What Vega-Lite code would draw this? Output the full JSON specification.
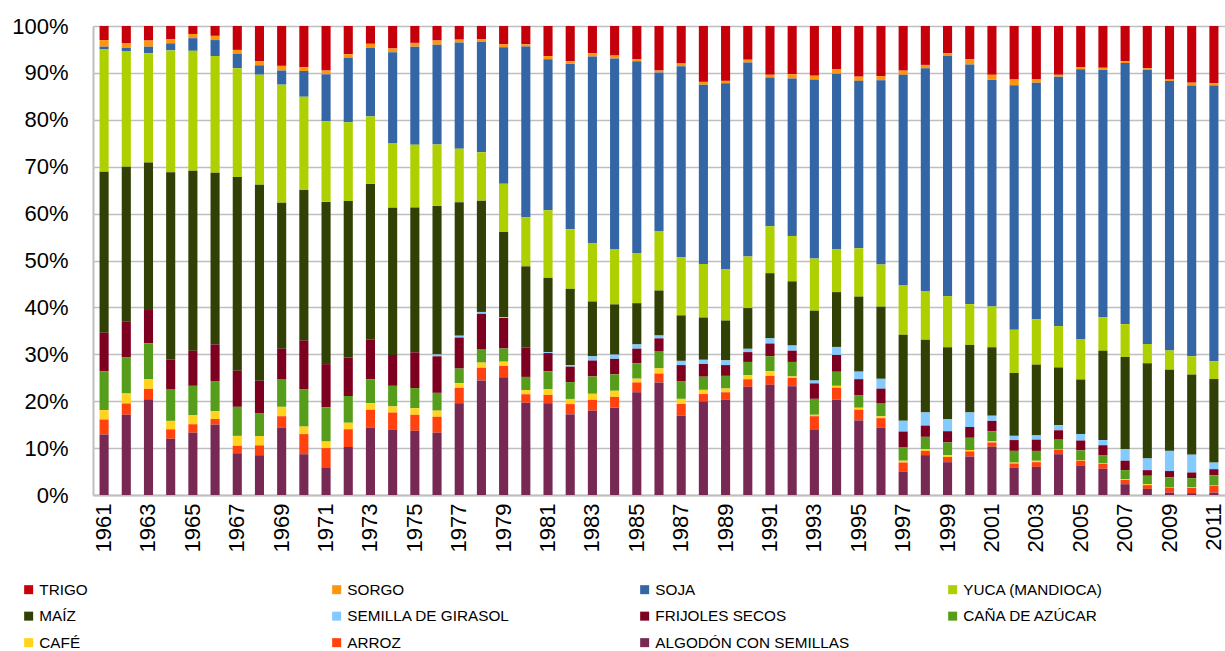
{
"$schema": "https://vega.github.io/schema/vega-lite/v6.json",
"width": 1132, "height": 469,
"autosize": "none",
"padding": {"left": 93, "top": 26, "right": 0, "bottom": 156},
"background": "white",
"config": {"view": {"stroke": null}, "font": "Liberation Sans"},
"datasets": {
"orden": [{"crop":"ALGODÓN CON SEMILLAS","rank":1},{"crop":"ARROZ","rank":2},{"crop":"CAFÉ","rank":3},{"crop":"CAÑA DE AZÚCAR","rank":4},{"crop":"FRIJOLES SECOS","rank":5},{"crop":"SEMILLA DE GIRASOL","rank":6},{"crop":"MAÍZ","rank":7},{"crop":"YUCA (MANDIOCA)","rank":8},{"crop":"SOJA","rank":9},{"crop":"SORGO","rank":10},{"crop":"TRIGO","rank":11}],
"d": [
{"year":1961,"crop":"TRIGO","pct":3.0},{"year":1961,"crop":"SORGO","pct":1.4},{"year":1961,"crop":"SOJA","pct":0.5},{"year":1961,"crop":"YUCA (MANDIOCA)","pct":26.2},{"year":1961,"crop":"MAÍZ","pct":34.3},{"year":1961,"crop":"SEMILLA DE GIRASOL","pct":0},{"year":1961,"crop":"FRIJOLES SECOS","pct":8.2},{"year":1961,"crop":"CAÑA DE AZÚCAR","pct":8.3},{"year":1961,"crop":"CAFÉ","pct":2.0},{"year":1961,"crop":"ARROZ","pct":3.2},{"year":1961,"crop":"ALGODÓN CON SEMILLAS","pct":12.9},
{"year":1962,"crop":"TRIGO","pct":3.6},{"year":1962,"crop":"SORGO","pct":1.1},{"year":1962,"crop":"SOJA","pct":0.6},{"year":1962,"crop":"YUCA (MANDIOCA)","pct":24.7},{"year":1962,"crop":"MAÍZ","pct":32.9},{"year":1962,"crop":"SEMILLA DE GIRASOL","pct":0},{"year":1962,"crop":"FRIJOLES SECOS","pct":7.7},{"year":1962,"crop":"CAÑA DE AZÚCAR","pct":7.7},{"year":1962,"crop":"CAFÉ","pct":2.1},{"year":1962,"crop":"ARROZ","pct":2.4},{"year":1962,"crop":"ALGODÓN CON SEMILLAS","pct":17.1},
{"year":1963,"crop":"TRIGO","pct":3.1},{"year":1963,"crop":"SORGO","pct":1.3},{"year":1963,"crop":"SOJA","pct":1.4},{"year":1963,"crop":"YUCA (MANDIOCA)","pct":23.3},{"year":1963,"crop":"MAÍZ","pct":31.4},{"year":1963,"crop":"SEMILLA DE GIRASOL","pct":0},{"year":1963,"crop":"FRIJOLES SECOS","pct":7.1},{"year":1963,"crop":"CAÑA DE AZÚCAR","pct":7.6},{"year":1963,"crop":"CAFÉ","pct":2.1},{"year":1963,"crop":"ARROZ","pct":2.2},{"year":1963,"crop":"ALGODÓN CON SEMILLAS","pct":20.4},
{"year":1964,"crop":"TRIGO","pct":2.8},{"year":1964,"crop":"SORGO","pct":0.9},{"year":1964,"crop":"SOJA","pct":1.5},{"year":1964,"crop":"YUCA (MANDIOCA)","pct":26.0},{"year":1964,"crop":"MAÍZ","pct":39.9},{"year":1964,"crop":"SEMILLA DE GIRASOL","pct":0},{"year":1964,"crop":"FRIJOLES SECOS","pct":6.3},{"year":1964,"crop":"CAÑA DE AZÚCAR","pct":6.8},{"year":1964,"crop":"CAFÉ","pct":1.8},{"year":1964,"crop":"ARROZ","pct":2.0},{"year":1964,"crop":"ALGODÓN CON SEMILLAS","pct":12.0},
{"year":1965,"crop":"TRIGO","pct":1.7},{"year":1965,"crop":"SORGO","pct":0.9},{"year":1965,"crop":"SOJA","pct":2.7},{"year":1965,"crop":"YUCA (MANDIOCA)","pct":25.6},{"year":1965,"crop":"MAÍZ","pct":38.4},{"year":1965,"crop":"SEMILLA DE GIRASOL","pct":0},{"year":1965,"crop":"FRIJOLES SECOS","pct":7.5},{"year":1965,"crop":"CAÑA DE AZÚCAR","pct":6.3},{"year":1965,"crop":"CAFÉ","pct":1.9},{"year":1965,"crop":"ARROZ","pct":1.8},{"year":1965,"crop":"ALGODÓN CON SEMILLAS","pct":13.3},
{"year":1966,"crop":"TRIGO","pct":2.1},{"year":1966,"crop":"SORGO","pct":0.9},{"year":1966,"crop":"SOJA","pct":3.4},{"year":1966,"crop":"YUCA (MANDIOCA)","pct":24.9},{"year":1966,"crop":"MAÍZ","pct":36.6},{"year":1966,"crop":"SEMILLA DE GIRASOL","pct":0},{"year":1966,"crop":"FRIJOLES SECOS","pct":7.8},{"year":1966,"crop":"CAÑA DE AZÚCAR","pct":6.4},{"year":1966,"crop":"CAFÉ","pct":1.7},{"year":1966,"crop":"ARROZ","pct":1.2},{"year":1966,"crop":"ALGODÓN CON SEMILLAS","pct":15.0},
{"year":1967,"crop":"TRIGO","pct":5.1},{"year":1967,"crop":"SORGO","pct":0.8},{"year":1967,"crop":"SOJA","pct":3.1},{"year":1967,"crop":"YUCA (MANDIOCA)","pct":23.2},{"year":1967,"crop":"MAÍZ","pct":41.3},{"year":1967,"crop":"SEMILLA DE GIRASOL","pct":0},{"year":1967,"crop":"FRIJOLES SECOS","pct":7.7},{"year":1967,"crop":"CAÑA DE AZÚCAR","pct":6.2},{"year":1967,"crop":"CAFÉ","pct":2.1},{"year":1967,"crop":"ARROZ","pct":1.6},{"year":1967,"crop":"ALGODÓN CON SEMILLAS","pct":8.9},
{"year":1968,"crop":"TRIGO","pct":7.5},{"year":1968,"crop":"SORGO","pct":0.9},{"year":1968,"crop":"SOJA","pct":2.0},{"year":1968,"crop":"YUCA (MANDIOCA)","pct":23.5},{"year":1968,"crop":"MAÍZ","pct":41.9},{"year":1968,"crop":"SEMILLA DE GIRASOL","pct":0},{"year":1968,"crop":"FRIJOLES SECOS","pct":7.0},{"year":1968,"crop":"CAÑA DE AZÚCAR","pct":4.8},{"year":1968,"crop":"CAFÉ","pct":2.0},{"year":1968,"crop":"ARROZ","pct":2.1},{"year":1968,"crop":"ALGODÓN CON SEMILLAS","pct":8.5},
{"year":1969,"crop":"TRIGO","pct":8.5},{"year":1969,"crop":"SORGO","pct":1.0},{"year":1969,"crop":"SOJA","pct":3.0},{"year":1969,"crop":"YUCA (MANDIOCA)","pct":25.2},{"year":1969,"crop":"MAÍZ","pct":31.1},{"year":1969,"crop":"SEMILLA DE GIRASOL","pct":0},{"year":1969,"crop":"FRIJOLES SECOS","pct":6.6},{"year":1969,"crop":"CAÑA DE AZÚCAR","pct":5.8},{"year":1969,"crop":"CAFÉ","pct":2.0},{"year":1969,"crop":"ARROZ","pct":2.4},{"year":1969,"crop":"ALGODÓN CON SEMILLAS","pct":14.4},
{"year":1970,"crop":"TRIGO","pct":8.8},{"year":1970,"crop":"SORGO","pct":0.8},{"year":1970,"crop":"SOJA","pct":5.5},{"year":1970,"crop":"YUCA (MANDIOCA)","pct":19.9},{"year":1970,"crop":"MAÍZ","pct":32.1},{"year":1970,"crop":"SEMILLA DE GIRASOL","pct":0},{"year":1970,"crop":"FRIJOLES SECOS","pct":10.4},{"year":1970,"crop":"CAÑA DE AZÚCAR","pct":8.0},{"year":1970,"crop":"CAFÉ","pct":1.6},{"year":1970,"crop":"ARROZ","pct":4.3},{"year":1970,"crop":"ALGODÓN CON SEMILLAS","pct":8.7},
{"year":1971,"crop":"TRIGO","pct":9.5},{"year":1971,"crop":"SORGO","pct":0.8},{"year":1971,"crop":"SOJA","pct":10.0},{"year":1971,"crop":"YUCA (MANDIOCA)","pct":17.2},{"year":1971,"crop":"MAÍZ","pct":34.6},{"year":1971,"crop":"SEMILLA DE GIRASOL","pct":0},{"year":1971,"crop":"FRIJOLES SECOS","pct":9.2},{"year":1971,"crop":"CAÑA DE AZÚCAR","pct":7.3},{"year":1971,"crop":"CAFÉ","pct":1.4},{"year":1971,"crop":"ARROZ","pct":4.1},{"year":1971,"crop":"ALGODÓN CON SEMILLAS","pct":5.9},
{"year":1972,"crop":"TRIGO","pct":6.0},{"year":1972,"crop":"SORGO","pct":0.8},{"year":1972,"crop":"SOJA","pct":13.7},{"year":1972,"crop":"YUCA (MANDIOCA)","pct":16.8},{"year":1972,"crop":"MAÍZ","pct":33.3},{"year":1972,"crop":"SEMILLA DE GIRASOL","pct":0},{"year":1972,"crop":"FRIJOLES SECOS","pct":8.2},{"year":1972,"crop":"CAÑA DE AZÚCAR","pct":5.7},{"year":1972,"crop":"CAFÉ","pct":1.4},{"year":1972,"crop":"ARROZ","pct":3.8},{"year":1972,"crop":"ALGODÓN CON SEMILLAS","pct":10.2},
{"year":1973,"crop":"TRIGO","pct":3.8},{"year":1973,"crop":"SORGO","pct":0.9},{"year":1973,"crop":"SOJA","pct":14.6},{"year":1973,"crop":"YUCA (MANDIOCA)","pct":14.4},{"year":1973,"crop":"MAÍZ","pct":33.2},{"year":1973,"crop":"SEMILLA DE GIRASOL","pct":0},{"year":1973,"crop":"FRIJOLES SECOS","pct":8.5},{"year":1973,"crop":"CAÑA DE AZÚCAR","pct":5.1},{"year":1973,"crop":"CAFÉ","pct":1.4},{"year":1973,"crop":"ARROZ","pct":3.8},{"year":1973,"crop":"ALGODÓN CON SEMILLAS","pct":14.4},
{"year":1974,"crop":"TRIGO","pct":4.8},{"year":1974,"crop":"SORGO","pct":0.8},{"year":1974,"crop":"SOJA","pct":19.5},{"year":1974,"crop":"YUCA (MANDIOCA)","pct":13.7},{"year":1974,"crop":"MAÍZ","pct":31.4},{"year":1974,"crop":"SEMILLA DE GIRASOL","pct":0},{"year":1974,"crop":"FRIJOLES SECOS","pct":6.6},{"year":1974,"crop":"CAÑA DE AZÚCAR","pct":4.4},{"year":1974,"crop":"CAFÉ","pct":1.3},{"year":1974,"crop":"ARROZ","pct":3.6},{"year":1974,"crop":"ALGODÓN CON SEMILLAS","pct":14.0},
{"year":1975,"crop":"TRIGO","pct":3.6},{"year":1975,"crop":"SORGO","pct":0.8},{"year":1975,"crop":"SOJA","pct":20.9},{"year":1975,"crop":"YUCA (MANDIOCA)","pct":13.4},{"year":1975,"crop":"MAÍZ","pct":30.9},{"year":1975,"crop":"SEMILLA DE GIRASOL","pct":0},{"year":1975,"crop":"FRIJOLES SECOS","pct":7.6},{"year":1975,"crop":"CAÑA DE AZÚCAR","pct":4.3},{"year":1975,"crop":"CAFÉ","pct":1.4},{"year":1975,"crop":"ARROZ","pct":3.4},{"year":1975,"crop":"ALGODÓN CON SEMILLAS","pct":13.7},
{"year":1976,"crop":"TRIGO","pct":3.1},{"year":1976,"crop":"SORGO","pct":0.9},{"year":1976,"crop":"SOJA","pct":21.3},{"year":1976,"crop":"YUCA (MANDIOCA)","pct":13.1},{"year":1976,"crop":"MAÍZ","pct":31.7},{"year":1976,"crop":"SEMILLA DE GIRASOL","pct":0.4},{"year":1976,"crop":"FRIJOLES SECOS","pct":7.8},{"year":1976,"crop":"CAÑA DE AZÚCAR","pct":3.8},{"year":1976,"crop":"CAFÉ","pct":1.3},{"year":1976,"crop":"ARROZ","pct":3.4},{"year":1976,"crop":"ALGODÓN CON SEMILLAS","pct":13.3},
{"year":1977,"crop":"TRIGO","pct":2.9},{"year":1977,"crop":"SORGO","pct":0.6},{"year":1977,"crop":"SOJA","pct":22.6},{"year":1977,"crop":"YUCA (MANDIOCA)","pct":11.4},{"year":1977,"crop":"MAÍZ","pct":28.4},{"year":1977,"crop":"SEMILLA DE GIRASOL","pct":0.4},{"year":1977,"crop":"FRIJOLES SECOS","pct":6.6},{"year":1977,"crop":"CAÑA DE AZÚCAR","pct":3.1},{"year":1977,"crop":"CAFÉ","pct":1.0},{"year":1977,"crop":"ARROZ","pct":3.3},{"year":1977,"crop":"ALGODÓN CON SEMILLAS","pct":19.5},
{"year":1978,"crop":"TRIGO","pct":2.8},{"year":1978,"crop":"SORGO","pct":0.6},{"year":1978,"crop":"SOJA","pct":23.5},{"year":1978,"crop":"YUCA (MANDIOCA)","pct":10.3},{"year":1978,"crop":"MAÍZ","pct":23.7},{"year":1978,"crop":"SEMILLA DE GIRASOL","pct":0.4},{"year":1978,"crop":"FRIJOLES SECOS","pct":7.5},{"year":1978,"crop":"CAÑA DE AZÚCAR","pct":2.9},{"year":1978,"crop":"CAFÉ","pct":1.1},{"year":1978,"crop":"ARROZ","pct":2.7},{"year":1978,"crop":"ALGODÓN CON SEMILLAS","pct":24.4},
{"year":1979,"crop":"TRIGO","pct":3.9},{"year":1979,"crop":"SORGO","pct":0.6},{"year":1979,"crop":"SOJA","pct":29.1},{"year":1979,"crop":"YUCA (MANDIOCA)","pct":10.3},{"year":1979,"crop":"MAÍZ","pct":18.1},{"year":1979,"crop":"SEMILLA DE GIRASOL","pct":0.2},{"year":1979,"crop":"FRIJOLES SECOS","pct":6.5},{"year":1979,"crop":"CAÑA DE AZÚCAR","pct":2.8},{"year":1979,"crop":"CAFÉ","pct":0.9},{"year":1979,"crop":"ARROZ","pct":2.4},{"year":1979,"crop":"ALGODÓN CON SEMILLAS","pct":25.1},
{"year":1980,"crop":"TRIGO","pct":3.9},{"year":1980,"crop":"SORGO","pct":0.5},{"year":1980,"crop":"SOJA","pct":36.4},{"year":1980,"crop":"YUCA (MANDIOCA)","pct":10.5},{"year":1980,"crop":"MAÍZ","pct":17.3},{"year":1980,"crop":"SEMILLA DE GIRASOL","pct":0},{"year":1980,"crop":"FRIJOLES SECOS","pct":6.3},{"year":1980,"crop":"CAÑA DE AZÚCAR","pct":2.8},{"year":1980,"crop":"CAFÉ","pct":0.9},{"year":1980,"crop":"ARROZ","pct":1.8},{"year":1980,"crop":"ALGODÓN CON SEMILLAS","pct":19.7},
{"year":1981,"crop":"TRIGO","pct":6.4},{"year":1981,"crop":"SORGO","pct":0.7},{"year":1981,"crop":"SOJA","pct":32.1},{"year":1981,"crop":"YUCA (MANDIOCA)","pct":14.4},{"year":1981,"crop":"MAÍZ","pct":15.8},{"year":1981,"crop":"SEMILLA DE GIRASOL","pct":0.2},{"year":1981,"crop":"FRIJOLES SECOS","pct":3.9},{"year":1981,"crop":"CAÑA DE AZÚCAR","pct":3.8},{"year":1981,"crop":"CAFÉ","pct":1.2},{"year":1981,"crop":"ARROZ","pct":1.8},{"year":1981,"crop":"ALGODÓN CON SEMILLAS","pct":19.5},
{"year":1982,"crop":"TRIGO","pct":7.5},{"year":1982,"crop":"SORGO","pct":0.6},{"year":1982,"crop":"SOJA","pct":35.3},{"year":1982,"crop":"YUCA (MANDIOCA)","pct":12.7},{"year":1982,"crop":"MAÍZ","pct":16.3},{"year":1982,"crop":"SEMILLA DE GIRASOL","pct":0.3},{"year":1982,"crop":"FRIJOLES SECOS","pct":3.3},{"year":1982,"crop":"CAÑA DE AZÚCAR","pct":3.6},{"year":1982,"crop":"CAFÉ","pct":1.1},{"year":1982,"crop":"ARROZ","pct":2.2},{"year":1982,"crop":"ALGODÓN CON SEMILLAS","pct":17.2},
{"year":1983,"crop":"TRIGO","pct":5.8},{"year":1983,"crop":"SORGO","pct":0.7},{"year":1983,"crop":"SOJA","pct":39.8},{"year":1983,"crop":"YUCA (MANDIOCA)","pct":12.5},{"year":1983,"crop":"MAÍZ","pct":11.7},{"year":1983,"crop":"SEMILLA DE GIRASOL","pct":0.9},{"year":1983,"crop":"FRIJOLES SECOS","pct":3.4},{"year":1983,"crop":"CAÑA DE AZÚCAR","pct":3.7},{"year":1983,"crop":"CAFÉ","pct":1.3},{"year":1983,"crop":"ARROZ","pct":2.3},{"year":1983,"crop":"ALGODÓN CON SEMILLAS","pct":18.0},
{"year":1984,"crop":"TRIGO","pct":6.3},{"year":1984,"crop":"SORGO","pct":0.6},{"year":1984,"crop":"SOJA","pct":40.7},{"year":1984,"crop":"YUCA (MANDIOCA)","pct":11.7},{"year":1984,"crop":"MAÍZ","pct":10.7},{"year":1984,"crop":"SEMILLA DE GIRASOL","pct":0.9},{"year":1984,"crop":"FRIJOLES SECOS","pct":3.3},{"year":1984,"crop":"CAÑA DE AZÚCAR","pct":3.5},{"year":1984,"crop":"CAFÉ","pct":1.3},{"year":1984,"crop":"ARROZ","pct":2.3},{"year":1984,"crop":"ALGODÓN CON SEMILLAS","pct":18.6},
{"year":1985,"crop":"TRIGO","pct":7.1},{"year":1985,"crop":"SORGO","pct":0.4},{"year":1985,"crop":"SOJA","pct":40.9},{"year":1985,"crop":"YUCA (MANDIOCA)","pct":10.7},{"year":1985,"crop":"MAÍZ","pct":8.8},{"year":1985,"crop":"SEMILLA DE GIRASOL","pct":0.9},{"year":1985,"crop":"FRIJOLES SECOS","pct":3.1},{"year":1985,"crop":"CAÑA DE AZÚCAR","pct":3.3},{"year":1985,"crop":"CAFÉ","pct":0.8},{"year":1985,"crop":"ARROZ","pct":2.1},{"year":1985,"crop":"ALGODÓN CON SEMILLAS","pct":21.9},
{"year":1986,"crop":"TRIGO","pct":9.5},{"year":1986,"crop":"SORGO","pct":0.4},{"year":1986,"crop":"SOJA","pct":33.8},{"year":1986,"crop":"YUCA (MANDIOCA)","pct":12.7},{"year":1986,"crop":"MAÍZ","pct":9.6},{"year":1986,"crop":"SEMILLA DE GIRASOL","pct":0.6},{"year":1986,"crop":"FRIJOLES SECOS","pct":2.7},{"year":1986,"crop":"CAÑA DE AZÚCAR","pct":3.7},{"year":1986,"crop":"CAFÉ","pct":1.1},{"year":1986,"crop":"ARROZ","pct":1.9},{"year":1986,"crop":"ALGODÓN CON SEMILLAS","pct":24.0},
{"year":1987,"crop":"TRIGO","pct":8.0},{"year":1987,"crop":"SORGO","pct":0.6},{"year":1987,"crop":"SOJA","pct":40.7},{"year":1987,"crop":"YUCA (MANDIOCA)","pct":12.4},{"year":1987,"crop":"MAÍZ","pct":9.7},{"year":1987,"crop":"SEMILLA DE GIRASOL","pct":0.9},{"year":1987,"crop":"FRIJOLES SECOS","pct":3.4},{"year":1987,"crop":"CAÑA DE AZÚCAR","pct":3.8},{"year":1987,"crop":"CAFÉ","pct":1.1},{"year":1987,"crop":"ARROZ","pct":2.5},{"year":1987,"crop":"ALGODÓN CON SEMILLAS","pct":16.9},
{"year":1988,"crop":"TRIGO","pct":11.9},{"year":1988,"crop":"SORGO","pct":0.6},{"year":1988,"crop":"SOJA","pct":38.2},{"year":1988,"crop":"YUCA (MANDIOCA)","pct":11.4},{"year":1988,"crop":"MAÍZ","pct":9.0},{"year":1988,"crop":"SEMILLA DE GIRASOL","pct":0.9},{"year":1988,"crop":"FRIJOLES SECOS","pct":2.7},{"year":1988,"crop":"CAÑA DE AZÚCAR","pct":2.8},{"year":1988,"crop":"CAFÉ","pct":0.9},{"year":1988,"crop":"ARROZ","pct":1.6},{"year":1988,"crop":"ALGODÓN CON SEMILLAS","pct":19.9},
{"year":1989,"crop":"TRIGO","pct":11.7},{"year":1989,"crop":"SORGO","pct":0.5},{"year":1989,"crop":"SOJA","pct":39.7},{"year":1989,"crop":"YUCA (MANDIOCA)","pct":10.9},{"year":1989,"crop":"MAÍZ","pct":8.5},{"year":1989,"crop":"SEMILLA DE GIRASOL","pct":1.0},{"year":1989,"crop":"FRIJOLES SECOS","pct":2.3},{"year":1989,"crop":"CAÑA DE AZÚCAR","pct":2.7},{"year":1989,"crop":"CAFÉ","pct":0.8},{"year":1989,"crop":"ARROZ","pct":1.6},{"year":1989,"crop":"ALGODÓN CON SEMILLAS","pct":20.3},
{"year":1990,"crop":"TRIGO","pct":7.2},{"year":1990,"crop":"SORGO","pct":0.6},{"year":1990,"crop":"SOJA","pct":41.4},{"year":1990,"crop":"YUCA (MANDIOCA)","pct":11.0},{"year":1990,"crop":"MAÍZ","pct":8.7},{"year":1990,"crop":"SEMILLA DE GIRASOL","pct":0.7},{"year":1990,"crop":"FRIJOLES SECOS","pct":2.1},{"year":1990,"crop":"CAÑA DE AZÚCAR","pct":2.8},{"year":1990,"crop":"CAFÉ","pct":0.9},{"year":1990,"crop":"ARROZ","pct":1.6},{"year":1990,"crop":"ALGODÓN CON SEMILLAS","pct":23.1},
{"year":1991,"crop":"TRIGO","pct":10.4},{"year":1991,"crop":"SORGO","pct":0.6},{"year":1991,"crop":"SOJA","pct":31.7},{"year":1991,"crop":"YUCA (MANDIOCA)","pct":10.0},{"year":1991,"crop":"MAÍZ","pct":13.9},{"year":1991,"crop":"SEMILLA DE GIRASOL","pct":1.1},{"year":1991,"crop":"FRIJOLES SECOS","pct":2.7},{"year":1991,"crop":"CAÑA DE AZÚCAR","pct":3.2},{"year":1991,"crop":"CAFÉ","pct":1.0},{"year":1991,"crop":"ARROZ","pct":1.9},{"year":1991,"crop":"ALGODÓN CON SEMILLAS","pct":23.5},
{"year":1992,"crop":"TRIGO","pct":10.3},{"year":1992,"crop":"SORGO","pct":0.9},{"year":1992,"crop":"SOJA","pct":33.6},{"year":1992,"crop":"YUCA (MANDIOCA)","pct":9.7},{"year":1992,"crop":"MAÍZ","pct":13.7},{"year":1992,"crop":"SEMILLA DE GIRASOL","pct":1.1},{"year":1992,"crop":"FRIJOLES SECOS","pct":2.4},{"year":1992,"crop":"CAÑA DE AZÚCAR","pct":3.1},{"year":1992,"crop":"CAFÉ","pct":0.3},{"year":1992,"crop":"ARROZ","pct":1.8},{"year":1992,"crop":"ALGODÓN CON SEMILLAS","pct":23.2},
{"year":1993,"crop":"TRIGO","pct":10.6},{"year":1993,"crop":"SORGO","pct":0.8},{"year":1993,"crop":"SOJA","pct":38.2},{"year":1993,"crop":"YUCA (MANDIOCA)","pct":11.1},{"year":1993,"crop":"MAÍZ","pct":14.9},{"year":1993,"crop":"SEMILLA DE GIRASOL","pct":0.6},{"year":1993,"crop":"FRIJOLES SECOS","pct":3.3},{"year":1993,"crop":"CAÑA DE AZÚCAR","pct":3.4},{"year":1993,"crop":"CAFÉ","pct":0.3},{"year":1993,"crop":"ARROZ","pct":2.8},{"year":1993,"crop":"ALGODÓN CON SEMILLAS","pct":14.0},
{"year":1994,"crop":"TRIGO","pct":9.2},{"year":1994,"crop":"SORGO","pct":1.0},{"year":1994,"crop":"SOJA","pct":37.4},{"year":1994,"crop":"YUCA (MANDIOCA)","pct":9.2},{"year":1994,"crop":"MAÍZ","pct":11.7},{"year":1994,"crop":"SEMILLA DE GIRASOL","pct":1.7},{"year":1994,"crop":"FRIJOLES SECOS","pct":3.6},{"year":1994,"crop":"CAÑA DE AZÚCAR","pct":3.0},{"year":1994,"crop":"CAFÉ","pct":0.4},{"year":1994,"crop":"ARROZ","pct":2.6},{"year":1994,"crop":"ALGODÓN CON SEMILLAS","pct":20.3},
{"year":1995,"crop":"TRIGO","pct":10.8},{"year":1995,"crop":"SORGO","pct":0.9},{"year":1995,"crop":"SOJA","pct":35.7},{"year":1995,"crop":"YUCA (MANDIOCA)","pct":10.3},{"year":1995,"crop":"MAÍZ","pct":16.0},{"year":1995,"crop":"SEMILLA DE GIRASOL","pct":1.6},{"year":1995,"crop":"FRIJOLES SECOS","pct":3.4},{"year":1995,"crop":"CAÑA DE AZÚCAR","pct":2.7},{"year":1995,"crop":"CAFÉ","pct":0.4},{"year":1995,"crop":"ARROZ","pct":2.3},{"year":1995,"crop":"ALGODÓN CON SEMILLAS","pct":15.9},
{"year":1996,"crop":"TRIGO","pct":10.7},{"year":1996,"crop":"SORGO","pct":0.9},{"year":1996,"crop":"SOJA","pct":39.3},{"year":1996,"crop":"YUCA (MANDIOCA)","pct":9.0},{"year":1996,"crop":"MAÍZ","pct":15.4},{"year":1996,"crop":"SEMILLA DE GIRASOL","pct":2.1},{"year":1996,"crop":"FRIJOLES SECOS","pct":3.2},{"year":1996,"crop":"CAÑA DE AZÚCAR","pct":2.7},{"year":1996,"crop":"CAFÉ","pct":0.4},{"year":1996,"crop":"ARROZ","pct":2.0},{"year":1996,"crop":"ALGODÓN CON SEMILLAS","pct":14.4},
{"year":1997,"crop":"TRIGO","pct":9.5},{"year":1997,"crop":"SORGO","pct":0.9},{"year":1997,"crop":"SOJA","pct":44.8},{"year":1997,"crop":"YUCA (MANDIOCA)","pct":10.5},{"year":1997,"crop":"MAÍZ","pct":18.3},{"year":1997,"crop":"SEMILLA DE GIRASOL","pct":2.3},{"year":1997,"crop":"FRIJOLES SECOS","pct":3.4},{"year":1997,"crop":"CAÑA DE AZÚCAR","pct":2.8},{"year":1997,"crop":"CAFÉ","pct":0.4},{"year":1997,"crop":"ARROZ","pct":1.9},{"year":1997,"crop":"ALGODÓN CON SEMILLAS","pct":5.0},
{"year":1998,"crop":"TRIGO","pct":8.3},{"year":1998,"crop":"SORGO","pct":0.7},{"year":1998,"crop":"SOJA","pct":47.5},{"year":1998,"crop":"YUCA (MANDIOCA)","pct":10.4},{"year":1998,"crop":"MAÍZ","pct":15.5},{"year":1998,"crop":"SEMILLA DE GIRASOL","pct":2.8},{"year":1998,"crop":"FRIJOLES SECOS","pct":2.4},{"year":1998,"crop":"CAÑA DE AZÚCAR","pct":2.6},{"year":1998,"crop":"CAFÉ","pct":0.4},{"year":1998,"crop":"ARROZ","pct":0.9},{"year":1998,"crop":"ALGODÓN CON SEMILLAS","pct":8.5},
{"year":1999,"crop":"TRIGO","pct":5.8},{"year":1999,"crop":"SORGO","pct":0.6},{"year":1999,"crop":"SOJA","pct":51.2},{"year":1999,"crop":"YUCA (MANDIOCA)","pct":10.9},{"year":1999,"crop":"MAÍZ","pct":15.3},{"year":1999,"crop":"SEMILLA DE GIRASOL","pct":2.6},{"year":1999,"crop":"FRIJOLES SECOS","pct":2.4},{"year":1999,"crop":"CAÑA DE AZÚCAR","pct":2.7},{"year":1999,"crop":"CAFÉ","pct":0.4},{"year":1999,"crop":"ARROZ","pct":1.1},{"year":1999,"crop":"ALGODÓN CON SEMILLAS","pct":7.0},
{"year":2000,"crop":"TRIGO","pct":7.1},{"year":2000,"crop":"SORGO","pct":1.1},{"year":2000,"crop":"SOJA","pct":51.1},{"year":2000,"crop":"YUCA (MANDIOCA)","pct":8.7},{"year":2000,"crop":"MAÍZ","pct":14.4},{"year":2000,"crop":"SEMILLA DE GIRASOL","pct":3.1},{"year":2000,"crop":"FRIJOLES SECOS","pct":2.3},{"year":2000,"crop":"CAÑA DE AZÚCAR","pct":2.6},{"year":2000,"crop":"CAFÉ","pct":0.3},{"year":2000,"crop":"ARROZ","pct":1.1},{"year":2000,"crop":"ALGODÓN CON SEMILLAS","pct":8.2},
{"year":2001,"crop":"TRIGO","pct":10.4},{"year":2001,"crop":"SORGO","pct":1.1},{"year":2001,"crop":"SOJA","pct":48.3},{"year":2001,"crop":"YUCA (MANDIOCA)","pct":8.7},{"year":2001,"crop":"MAÍZ","pct":14.6},{"year":2001,"crop":"SEMILLA DE GIRASOL","pct":1.1},{"year":2001,"crop":"FRIJOLES SECOS","pct":2.2},{"year":2001,"crop":"CAÑA DE AZÚCAR","pct":2.1},{"year":2001,"crop":"CAFÉ","pct":0.3},{"year":2001,"crop":"ARROZ","pct":0.9},{"year":2001,"crop":"ALGODÓN CON SEMILLAS","pct":10.3},
{"year":2002,"crop":"TRIGO","pct":11.4},{"year":2002,"crop":"SORGO","pct":1.2},{"year":2002,"crop":"SOJA","pct":52.1},{"year":2002,"crop":"YUCA (MANDIOCA)","pct":9.2},{"year":2002,"crop":"MAÍZ","pct":13.4},{"year":2002,"crop":"SEMILLA DE GIRASOL","pct":0.9},{"year":2002,"crop":"FRIJOLES SECOS","pct":2.3},{"year":2002,"crop":"CAÑA DE AZÚCAR","pct":2.5},{"year":2002,"crop":"CAFÉ","pct":0.2},{"year":2002,"crop":"ARROZ","pct":0.9},{"year":2002,"crop":"ALGODÓN CON SEMILLAS","pct":5.8},
{"year":2003,"crop":"TRIGO","pct":11.4},{"year":2003,"crop":"SORGO","pct":0.7},{"year":2003,"crop":"SOJA","pct":50.4},{"year":2003,"crop":"YUCA (MANDIOCA)","pct":9.7},{"year":2003,"crop":"MAÍZ","pct":15.1},{"year":2003,"crop":"SEMILLA DE GIRASOL","pct":0.9},{"year":2003,"crop":"FRIJOLES SECOS","pct":2.4},{"year":2003,"crop":"CAÑA DE AZÚCAR","pct":2.1},{"year":2003,"crop":"CAFÉ","pct":0.3},{"year":2003,"crop":"ARROZ","pct":1.0},{"year":2003,"crop":"ALGODÓN CON SEMILLAS","pct":6.0},
{"year":2004,"crop":"TRIGO","pct":10.4},{"year":2004,"crop":"SORGO","pct":0.4},{"year":2004,"crop":"SOJA","pct":53.2},{"year":2004,"crop":"YUCA (MANDIOCA)","pct":8.8},{"year":2004,"crop":"MAÍZ","pct":12.3},{"year":2004,"crop":"SEMILLA DE GIRASOL","pct":1.1},{"year":2004,"crop":"FRIJOLES SECOS","pct":2.0},{"year":2004,"crop":"CAÑA DE AZÚCAR","pct":2.0},{"year":2004,"crop":"CAFÉ","pct":0.1},{"year":2004,"crop":"ARROZ","pct":1.0},{"year":2004,"crop":"ALGODÓN CON SEMILLAS","pct":8.7},
{"year":2005,"crop":"TRIGO","pct":8.8},{"year":2005,"crop":"SORGO","pct":0.4},{"year":2005,"crop":"SOJA","pct":57.6},{"year":2005,"crop":"YUCA (MANDIOCA)","pct":8.5},{"year":2005,"crop":"MAÍZ","pct":11.6},{"year":2005,"crop":"SEMILLA DE GIRASOL","pct":1.4},{"year":2005,"crop":"FRIJOLES SECOS","pct":2.1},{"year":2005,"crop":"CAÑA DE AZÚCAR","pct":2.1},{"year":2005,"crop":"CAFÉ","pct":0.1},{"year":2005,"crop":"ARROZ","pct":1.0},{"year":2005,"crop":"ALGODÓN CON SEMILLAS","pct":6.3},
{"year":2006,"crop":"TRIGO","pct":8.9},{"year":2006,"crop":"SORGO","pct":0.4},{"year":2006,"crop":"SOJA","pct":52.7},{"year":2006,"crop":"YUCA (MANDIOCA)","pct":7.2},{"year":2006,"crop":"MAÍZ","pct":19.0},{"year":2006,"crop":"SEMILLA DE GIRASOL","pct":1.1},{"year":2006,"crop":"FRIJOLES SECOS","pct":2.1},{"year":2006,"crop":"CAÑA DE AZÚCAR","pct":1.8},{"year":2006,"crop":"CAFÉ","pct":0.1},{"year":2006,"crop":"ARROZ","pct":1.0},{"year":2006,"crop":"ALGODÓN CON SEMILLAS","pct":5.6},
{"year":2007,"crop":"TRIGO","pct":7.5},{"year":2007,"crop":"SORGO","pct":0.4},{"year":2007,"crop":"SOJA","pct":55.6},{"year":2007,"crop":"YUCA (MANDIOCA)","pct":7.0},{"year":2007,"crop":"MAÍZ","pct":19.6},{"year":2007,"crop":"SEMILLA DE GIRASOL","pct":2.5},{"year":2007,"crop":"FRIJOLES SECOS","pct":2.0},{"year":2007,"crop":"CAÑA DE AZÚCAR","pct":1.9},{"year":2007,"crop":"CAFÉ","pct":0.2},{"year":2007,"crop":"ARROZ","pct":0.9},{"year":2007,"crop":"ALGODÓN CON SEMILLAS","pct":2.3},
{"year":2008,"crop":"TRIGO","pct":9.0},{"year":2008,"crop":"SORGO","pct":0.4},{"year":2008,"crop":"SOJA","pct":58.4},{"year":2008,"crop":"YUCA (MANDIOCA)","pct":4.1},{"year":2008,"crop":"MAÍZ","pct":20.3},{"year":2008,"crop":"SEMILLA DE GIRASOL","pct":2.5},{"year":2008,"crop":"FRIJOLES SECOS","pct":1.2},{"year":2008,"crop":"CAÑA DE AZÚCAR","pct":1.8},{"year":2008,"crop":"CAFÉ","pct":0.2},{"year":2008,"crop":"ARROZ","pct":0.8},{"year":2008,"crop":"ALGODÓN CON SEMILLAS","pct":1.3},
{"year":2009,"crop":"TRIGO","pct":11.4},{"year":2009,"crop":"SORGO","pct":0.3},{"year":2009,"crop":"SOJA","pct":57.4},{"year":2009,"crop":"YUCA (MANDIOCA)","pct":4.1},{"year":2009,"crop":"MAÍZ","pct":17.3},{"year":2009,"crop":"SEMILLA DE GIRASOL","pct":4.3},{"year":2009,"crop":"FRIJOLES SECOS","pct":1.3},{"year":2009,"crop":"CAÑA DE AZÚCAR","pct":2.1},{"year":2009,"crop":"CAFÉ","pct":0.1},{"year":2009,"crop":"ARROZ","pct":1.1},{"year":2009,"crop":"ALGODÓN CON SEMILLAS","pct":0.5},
{"year":2010,"crop":"TRIGO","pct":12.1},{"year":2010,"crop":"SORGO","pct":0.6},{"year":2010,"crop":"SOJA","pct":57.8},{"year":2010,"crop":"YUCA (MANDIOCA)","pct":3.9},{"year":2010,"crop":"MAÍZ","pct":17.1},{"year":2010,"crop":"SEMILLA DE GIRASOL","pct":3.8},{"year":2010,"crop":"FRIJOLES SECOS","pct":1.2},{"year":2010,"crop":"CAÑA DE AZÚCAR","pct":2.0},{"year":2010,"crop":"CAFÉ","pct":0.1},{"year":2010,"crop":"ARROZ","pct":1.1},{"year":2010,"crop":"ALGODÓN CON SEMILLAS","pct":0.4},
{"year":2011,"crop":"TRIGO","pct":12.2},{"year":2011,"crop":"SORGO","pct":0.5},{"year":2011,"crop":"SOJA","pct":58.7},{"year":2011,"crop":"YUCA (MANDIOCA)","pct":3.8},{"year":2011,"crop":"MAÍZ","pct":17.8},{"year":2011,"crop":"SEMILLA DE GIRASOL","pct":1.4},{"year":2011,"crop":"FRIJOLES SECOS","pct":1.3},{"year":2011,"crop":"CAÑA DE AZÚCAR","pct":2.1},{"year":2011,"crop":"CAFÉ","pct":0.1},{"year":2011,"crop":"ARROZ","pct":1.5},{"year":2011,"crop":"ALGODÓN CON SEMILLAS","pct":0.5}
]},
"data": {"name": "d"},
"transform": [{"lookup": "crop", "from": {"data": {"name": "orden"}, "key": "crop", "fields": ["rank"]}}],
"mark": {"type": "bar"},
"encoding": {
  "x": {"field": "year", "type": "ordinal",
        "scale": {"paddingInner": 0.59, "paddingOuter": 0.295},
        "axis": {"title": null, "values": [1961,1963,1965,1967,1969,1971,1973,1975,1977,1979,1981,1983,1985,1987,1989,1991,1993,1995,1997,1999,2001,2003,2005,2007,2009,2011],
                 "labelAngle": -90, "labelAlign": "right", "labelBaseline": "middle", "labelFontSize": 22, "labelColor": "#000000",
                 "labelPadding": 8, "ticks": false, "domainColor": "#BFBFBF", "domainWidth": 2}},
  "y": {"field": "pct", "type": "quantitative", "stack": "normalize",
        "scale": {"domain": [0, 1], "nice": false},
        "axis": {"title": null, "format": ".0%", "values": [0,0.1,0.2,0.3,0.4,0.5,0.6,0.7,0.8,0.9,1],
                 "labelFontSize": 22, "labelColor": "#000000", "labelPadding": 25, "ticks": false,
                 "domainColor": "#BFBFBF", "domainWidth": 2, "gridColor": "#BFBFBF", "gridWidth": 1.5, "gridOpacity": 1}},
  "order": {"field": "rank", "type": "quantitative", "sort": "ascending"},
  "color": {"field": "crop", "type": "nominal",
        "sort": ["TRIGO","SORGO","SOJA","YUCA (MANDIOCA)","MAÍZ","SEMILLA DE GIRASOL","FRIJOLES SECOS","CAÑA DE AZÚCAR","CAFÉ","ARROZ","ALGODÓN CON SEMILLAS"],
        "scale": {"domain": ["TRIGO","SORGO","SOJA","YUCA (MANDIOCA)","MAÍZ","SEMILLA DE GIRASOL","FRIJOLES SECOS","CAÑA DE AZÚCAR","CAFÉ","ARROZ","ALGODÓN CON SEMILLAS"],
                  "range": ["#C5000B","#FF950E","#3465A4","#AECF00","#314004","#83CAFF","#7E0021","#579D1C","#FFD320","#FF420E","#772953"]},
        "legend": {"title": null, "orient": "none", "legendX": -72, "legendY": 556, "direction": "horizontal", "columns": 4,
                   "gridAlign": "all", "symbolType": "square", "symbolSize": 81, "symbolStrokeWidth": 0, "symbolOpacity": 1,
                   "labelFontSize": 15.3, "labelColor": "#000000", "labelOffset": 3, "columnPadding": 95, "rowPadding": 10.5, "labelLimit": 400}}
}
}
